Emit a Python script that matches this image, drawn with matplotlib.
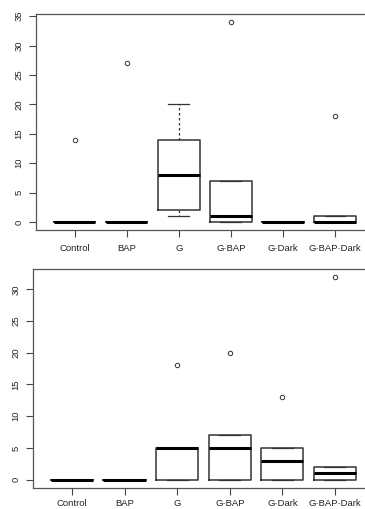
import numpy as np
import matplotlib.pyplot as plt

plt.rcParams['font.family'] = ['Liberation Sans', 'DejaVu Sans']

groups = ['Control', 'BAP', 'G', 'G·BAP', 'G·Dark', 'G·BAP·Dark']

# top panel: five-number summaries
top_whislo = [0, 0, 1, 0, 0, 0]
top_q1 = [0, 0, 2, 0, 0, 0]
top_med = [0, 0, 8, 1, 0, 0]
top_q3 = [0, 0, 14, 7, 0, 1]
top_whishi = [0, 0, 20, 7, 0, 1]
top_fliers = [[14], [27], [], [34], [], [18]]

# bottom panel
bot_whislo = [0, 0, 0, 0, 0, 0]
bot_q1 = [0, 0, 0, 0, 0, 0]
bot_med = [0, 0, 5, 5, 3, 1]
bot_q3 = [0, 0, 5, 7, 5, 2]
bot_whishi = [0, 0, 5, 7, 5, 2]
bot_fliers = [[], [], [18], [20], [13], [32]]


def make_stats(whislo, q1, med, q3, whishi, fliers):
    stats = []
    for i in range(len(groups)):
        stats.append({'whislo': whislo[i], 'q1': q1[i], 'med': med[i],
                      'q3': q3[i], 'whishi': whishi[i], 'fliers': fliers[i],
                      'label': groups[i]})
    return stats


def draw_panel(ax, stats, yticks, ymax, xpad):
    ax.bxp(stats, positions=np.arange(1, len(groups) + 1), widths=0.8,
           capwidths=0.4, showfliers=True,
           boxprops=dict(color='#333333', linewidth=1.1),
           medianprops=dict(color='black', linewidth=2.2, solid_capstyle='butt'),
           whiskerprops=dict(color='#333333', linewidth=0.9, linestyle=(0, (2, 2))),
           capprops=dict(color='#333333', linewidth=0.9),
           flierprops=dict(marker='o', markersize=3.2, markerfacecolor='none',
                           markeredgecolor='#333333', markeredgewidth=0.7))
    pad = ymax * 0.04
    ax.set_ylim(-pad, ymax + pad)
    ax.set_xlim(0.26, 6.74)
    ax.set_yticks(yticks)
    ax.set_yticklabels([str(t) for t in yticks], rotation=90, va='center')
    ax.set_xticks(np.arange(1, len(groups) + 1))
    ax.set_xticklabels(groups)
    ax.tick_params(axis='both', length=5, width=0.8, color='#444444',
                   labelsize=6.8, labelcolor='#222222')
    ax.tick_params(axis='y', pad=4)
    ax.tick_params(axis='x', pad=xpad)
    for s in ax.spines.values():
        s.set_color('#555555')
        s.set_linewidth(0.9)


fig = plt.figure(figsize=(3.65, 5.09), dpi=100)
ax1 = fig.add_axes([0.0986, 0.548, 0.925, 0.4244])
ax2 = fig.add_axes([0.0904, 0.0418, 0.934, 0.4306])

draw_panel(ax1, make_stats(top_whislo, top_q1, top_med, top_q3, top_whishi, top_fliers),
           [0, 5, 10, 15, 20, 25, 30, 35], 34, 5)
draw_panel(ax2, make_stats(bot_whislo, bot_q1, bot_med, bot_q3, bot_whishi, bot_fliers),
           [0, 5, 10, 15, 20, 25, 30], 32, 3)

fig.savefig('out.png', dpi=100)
